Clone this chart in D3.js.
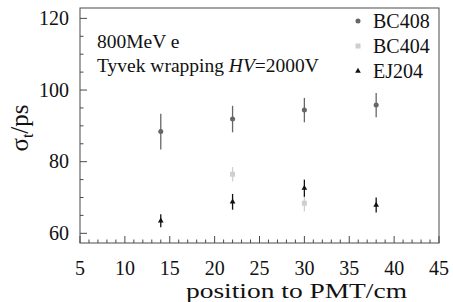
<!DOCTYPE html>
<html>
<head>
<meta charset="utf-8">
<script src="https://cdn.jsdelivr.net/npm/d3@7"></script>
<style>
  body { margin: 0; background: #fff; }
  svg text { font-family: "Liberation Serif", "DejaVu Serif", "Times New Roman", serif; fill: #111; }
</style>
</head>
<body>
<div id="chart"></div>
<script>
 var width = 453,
 height = 302;

 // DATA
 var positions = [14, 22, 30, 38];
 var bc408 = [88.4, 91.9, 94.4, 95.8];
 var bc408Err = [5.0, 3.7, 3.4, 3.4];
 var bc404Pos = [22, 30];
 var bc404 = [76.5, 68.4];
 var bc404Err = [2.0, 2.3];
 var ej204 = [63.5, 68.8, 72.6, 67.9];
 var ej204Err = [1.8, 2.2, 2.4, 2.1];
 var xTicks = [5, 10, 15, 20, 25, 30, 35, 40, 45];
 var yTicks = [60, 80, 100, 120];

 var margin = {left: 80, right: 14, top: 8, bottom: 59};

 var x = d3.scaleLinear().domain([5, 45])
     .range([margin.left, width - margin.right]);
 var y = d3.scaleLinear().domain([57.3, 122.9])
     .range([height - margin.bottom, margin.top]);

 var svg = d3.select("#chart").append("svg")
     .attr("width", width)
     .attr("height", height)
     .attr("font-family", "'Liberation Serif', 'DejaVu Serif', serif");

 var frameColor = "#4a4a4a";

 // frame
 svg.append("rect")
     .attr("x", x(5))
     .attr("y", y(122.9))
     .attr("width", x(45) - x(5))
     .attr("height", y(57.3) - y(122.9))
     .attr("fill", "none")
     .attr("stroke", frameColor)
     .attr("stroke-width", 1);

 // X AXIS (ticks inside, pointing up)
 var xAxis = svg.append("g")
     .attr("class", "x axis")
     .attr("transform", "translate(0," + y(57.3) + ")");
 xAxis.selectAll("line.minor")
     .data(d3.range(5, 46, 1))
     .enter().append("line")
     .attr("x1", function(d) { return x(d); })
     .attr("x2", function(d) { return x(d); })
     .attr("y1", 0)
     .attr("y2", function(d) { return d % 5 == 0 ? -7 : -3.5; })
     .attr("stroke", frameColor);
 xAxis.selectAll("text")
     .data(xTicks)
     .enter().append("text")
     .attr("x", function(d) { return x(d); })
     .attr("y", 32)
     .attr("text-anchor", "middle")
     .attr("font-size", 20)
     .text(function(d) { return d; });

 // Y AXIS
 var yAxis = svg.append("g")
     .attr("class", "y axis")
     .attr("transform", "translate(" + x(5) + ",0)");
 yAxis.selectAll("line.minor")
     .data(d3.range(60, 121, 5))
     .enter().append("line")
     .attr("y1", function(d) { return y(d); })
     .attr("y2", function(d) { return y(d); })
     .attr("x1", 0)
     .attr("x2", function(d) { return d % 20 == 0 ? 7 : 3.5; })
     .attr("stroke", frameColor);
 yAxis.selectAll("text")
     .data(yTicks)
     .enter().append("text")
     .attr("x", -11)
     .attr("y", function(d) { return y(d); })
     .attr("dy", "0.33em")
     .attr("text-anchor", "end")
     .attr("font-size", 20)
     .text(function(d) { return d; });

 // axis titles (x title is drawn a bit wide, as in the original figure)
 svg.append("text")
     .attr("x", 186)
     .attr("y", 297.5)
     .attr("font-size", 21)
     .attr("textLength", 221)
     .attr("lengthAdjust", "spacingAndGlyphs")
     .text("position to PMT/cm");

 var yt = svg.append("text")
     .attr("transform", "translate(28," + 128 + ") rotate(-90)")
     .attr("text-anchor", "middle")
     .attr("font-size", 25);
 yt.append("tspan").text("σ");
 yt.append("tspan").attr("font-size", 16).attr("dy", 5).text("t");
 yt.append("tspan").attr("dy", -5).text("/ps");

 // info text
 svg.append("text")
     .attr("x", 97).attr("y", 48)
     .attr("font-size", 19.5)
     .text("800MeV e");
 var info = svg.append("text")
     .attr("x", 97).attr("y", 72)
     .attr("font-size", 19.5);
 info.append("tspan").text("Tyvek wrapping ");
 info.append("tspan").attr("font-style", "italic").text("HV");
 info.append("tspan").text("=2000V");

 // SERIES
 function errorBars(cls, xs, vals, errs, color) {
     svg.append("g").attr("class", cls)
         .selectAll("line")
         .data(vals)
         .enter().append("line")
         .attr("x1", function(d, i) { return x(xs[i]); })
         .attr("x2", function(d, i) { return x(xs[i]); })
         .attr("y1", function(d, i) { return y(d - errs[i]); })
         .attr("y2", function(d, i) { return y(d + errs[i]); })
         .attr("stroke", color)
         .attr("stroke-width", 1.3);
 }

 var c408 = "#666666", c404 = "#cfcfcf", c204 = "#111111";

 errorBars("err408", positions, bc408, bc408Err, c408);
 errorBars("err404", bc404Pos, bc404, bc404Err, c404);
 errorBars("err204", positions, ej204, ej204Err, c204);

 var circ = d3.symbol().type(d3.symbolCircle).size(20);
 var sq = d3.symbol().type(d3.symbolSquare).size(25);
 var tri = d3.symbol().type(d3.symbolTriangle).size(14);

 svg.append("g").selectAll("path")
     .data(bc408).enter().append("path")
     .attr("d", circ)
     .attr("transform", function(d, i) { return "translate(" + x(positions[i]) + "," + y(d) + ")"; })
     .attr("fill", c408);
 svg.append("g").selectAll("path")
     .data(bc404).enter().append("path")
     .attr("d", sq)
     .attr("transform", function(d, i) { return "translate(" + x(bc404Pos[i]) + "," + y(d) + ")"; })
     .attr("fill", c404);
 svg.append("g").selectAll("path")
     .data(ej204).enter().append("path")
     .attr("d", tri)
     .attr("transform", function(d, i) { return "translate(" + x(positions[i]) + "," + y(d) + ")"; })
     .attr("fill", c204);

 // LEGEND
 var legendItems = [
     {name: "BC408", sym: circ, color: c408},
     {name: "BC404", sym: sq, color: c404},
     {name: "EJ204", sym: tri, color: c204}
 ];
 var legend = svg.append("g").attr("class", "legend")
     .attr("transform", "translate(358,21)");
 var li = legend.selectAll("g").data(legendItems).enter().append("g")
     .attr("transform", function(d, i) { return "translate(0," + i * 25 + ")"; });
 li.append("path")
     .attr("d", function(d) { return d.sym(); })
     .attr("fill", function(d) { return d.color; });
 li.append("text")
     .attr("x", 15)
     .attr("dy", "0.35em")
     .attr("font-size", 20)
     .text(function(d) { return d.name; });
</script>
</body>
</html>
